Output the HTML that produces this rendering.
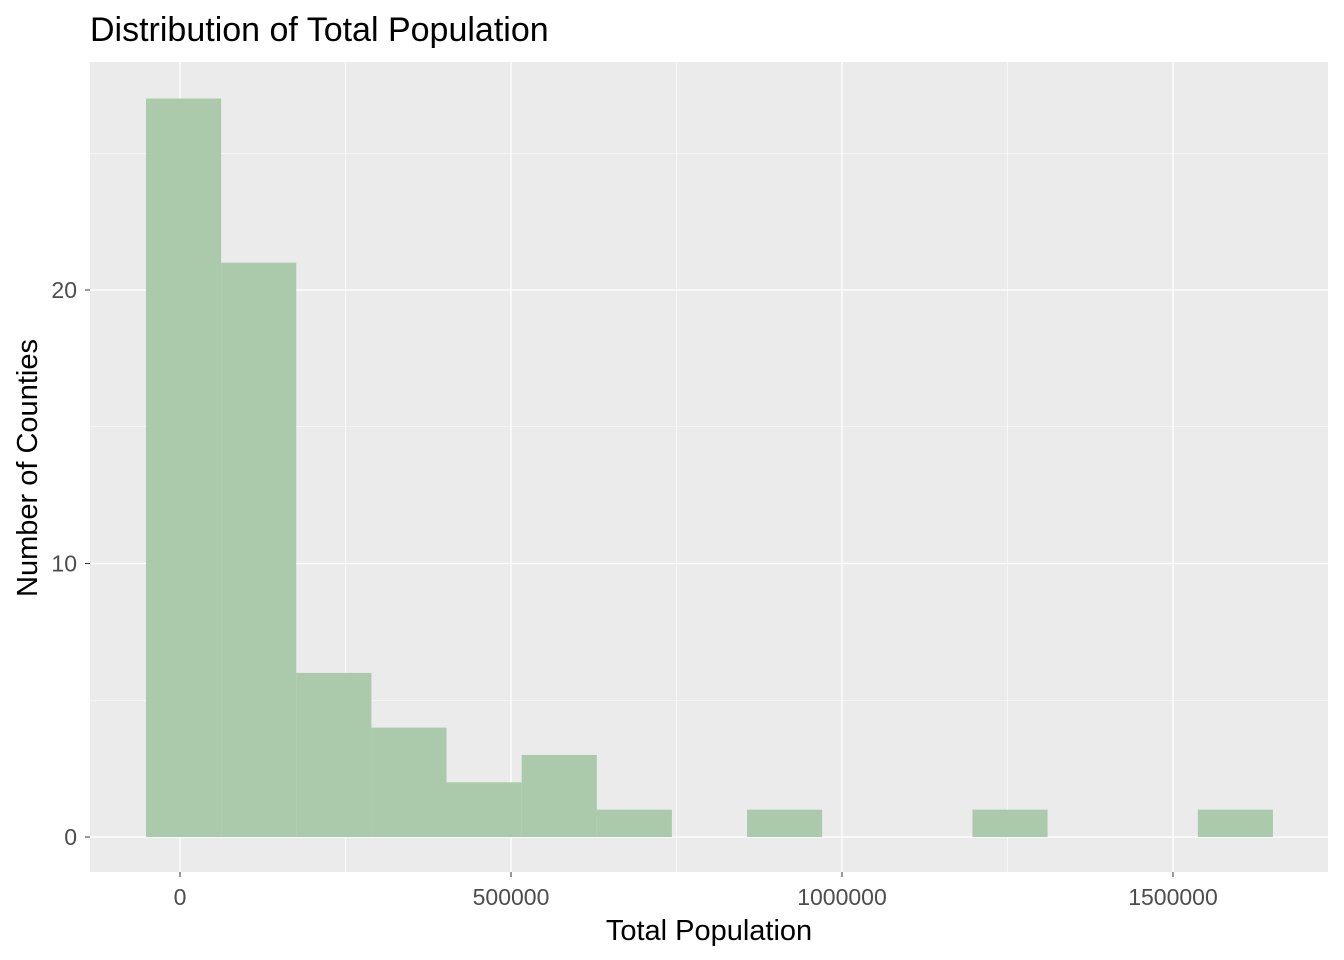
<!DOCTYPE html>
<html><head><meta charset="utf-8"><style>
html,body{margin:0;padding:0;background:#fff;}
svg{display:block;font-family:"Liberation Sans",Arial,sans-serif;}
</style></head><body>
<svg id="chart" width="1344" height="960">
<text x="90" y="41" font-size="34" fill="#000">Distribution of Total Population</text>
<rect x="90" y="62" width="1238" height="810" fill="#ebebeb"/>
<g id="grid"></g><g id="bars"></g><g id="axes"></g>
<text x="709" y="940" font-size="29" text-anchor="middle" fill="#000">Total Population</text>
<text transform="translate(37,468) rotate(-90)" font-size="29" text-anchor="middle" fill="#000">Number of Counties</text>
</svg>
<script>
const binStart = -51360;
const binWidth = 113490;
const counts = [27,21,6,4,2,3,1,0,1,0,0,1,0,0,1];
const xTicks = [0,500000,1000000,1500000];
const xMinor = [250000,750000,1250000];
const yTicks = [0,10,20];
const yMinor = [5,15,25];
const NS='http://www.w3.org/2000/svg';
const x = v => 180 + (v/500000)*331;
const y = v => 837 - v*27.35;
function mk(t,a,p){const e=document.createElementNS(NS,t);for(const k in a)e.setAttribute(k,a[k]);p.appendChild(e);return e;}
const grid=document.getElementById('grid'),bars=document.getElementById('bars'),axes=document.getElementById('axes');
yMinor.forEach(v=>{const l=mk('line',{x1:90,x2:1328,y1:y(v),y2:y(v),stroke:'#fff','stroke-width':0.6},grid);

});
xMinor.forEach(v=>{const l=mk('line',{x1:x(v),x2:x(v),y1:62,y2:872,stroke:'#fff','stroke-width':0.6},grid);

});
yTicks.forEach(v=>{const l=mk('line',{x1:90,x2:1328,y1:y(v),y2:y(v),stroke:'#fff','stroke-width':1.3},grid);


const t=mk('line',{x1:85,x2:90,y1:y(v),y2:y(v),stroke:'#333','stroke-width':1},axes);


const tx=mk('text',{x:77,y:y(v)+8,'font-size':23,'text-anchor':'end',fill:'#4d4d4d'},axes);tx.textContent=v;

});
xTicks.forEach(v=>{const l=mk('line',{x1:x(v),x2:x(v),y1:62,y2:872,stroke:'#fff','stroke-width':1.3},grid);


const t=mk('line',{x1:x(v),x2:x(v),y1:872,y2:877,stroke:'#333','stroke-width':1},axes);


const tx=mk('text',{x:x(v),y:905,'font-size':23,'text-anchor':'middle',fill:'#4d4d4d'},axes);tx.textContent=v;

});
counts.forEach((c,i)=>{if(c<=0)return;const x0=x(binStart+i*binWidth),x1=x(binStart+(i+1)*binWidth);
const r=mk('rect',{x:x0,y:y(c),width:x1-x0,height:y(0)-y(c),fill:'#abcaab'},bars);

});
</script>
</body></html>
